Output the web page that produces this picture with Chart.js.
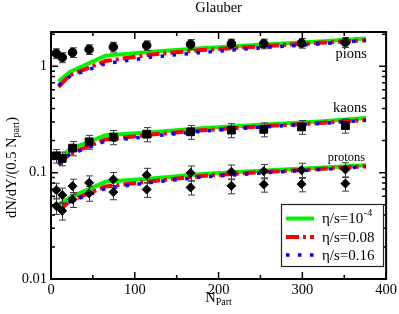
<!DOCTYPE html>
<html>
<head>
<meta charset="utf-8">
<script src="https://cdn.jsdelivr.net/npm/chart.js@4/dist/chart.umd.min.js"></script>
<style>
  body { margin: 0; background: #fff; }
  canvas { display: block; }
</style>
</head>
<body>
<canvas id="chart" width="399" height="314"></canvas>
<script>
// measured points (PHENIX-style centrality bins)
const nPart = [6.3, 13.4, 25.7, 45.5, 74.4, 114.2, 166.6, 215.3, 253.9, 299.0, 351.4];
const pions = [1.32, 1.21, 1.35, 1.44, 1.52, 1.57, 1.61, 1.63, 1.63, 1.65, 1.68];
const pionErr = [0.14, 0.13, 0.14, 0.15, 0.16, 0.16, 0.17, 0.17, 0.17, 0.17, 0.18];
const kaons = [0.144, 0.136, 0.170, 0.195, 0.216, 0.230, 0.242, 0.251, 0.255, 0.269, 0.277];
const kaonErr = [0.021, 0.020, 0.026, 0.029, 0.033, 0.035, 0.036, 0.038, 0.038, 0.040, 0.042];
const protons = [0.0685, 0.0615, 0.0747, 0.0802, 0.0863, 0.0948, 0.0995, 0.1018, 0.1033, 0.1055, 0.107];
const protonErr = [0.011, 0.010, 0.012, 0.013, 0.014, 0.015, 0.016, 0.016, 0.016, 0.017, 0.017];
const antiprotons = [0.0485, 0.0438, 0.0560, 0.0638, 0.0656, 0.0695, 0.0726, 0.0752, 0.0775, 0.078, 0.079];
const antiprotonErr = [0.008, 0.008, 0.009, 0.010, 0.010, 0.011, 0.011, 0.012, 0.012, 0.012, 0.012];

// hydro curves
const modelNpart = [9, 22, 65, 120, 180, 250, 320, 376];
const pionIdeal = [0.72, 0.88, 1.26, 1.37, 1.48, 1.59, 1.71, 1.82];
const pion008 = [0.64, 0.82, 1.12, 1.29, 1.42, 1.54, 1.66, 1.76];
const pion016 = [0.66, 0.80, 1.06, 1.22, 1.35, 1.49, 1.62, 1.75];
const kaonIdeal = [0.130, 0.165, 0.225, 0.240, 0.262, 0.282, 0.303, 0.327];
const kaon008 = [0.118, 0.150, 0.205, 0.228, 0.250, 0.272, 0.293, 0.312];
const kaon016 = [0.120, 0.148, 0.198, 0.220, 0.245, 0.268, 0.290, 0.310];
const protonIdeal = [0.050, 0.058, 0.082, 0.088, 0.097, 0.104, 0.111, 0.1175];
const proton008 = [0.043, 0.054, 0.074, 0.083, 0.093, 0.101, 0.108, 0.115];
const proton016 = [0.045, 0.053, 0.071, 0.081, 0.091, 0.099, 0.107, 0.114];

const xMajor = [0, 100, 200, 300, 400];
const xMinor = [50, 150, 250, 350];
const yMajor = [0.01, 0.1, 1];
const yMinor = [0.02, 0.03, 0.04, 0.05, 0.06, 0.07, 0.08, 0.09,
  0.2, 0.3, 0.4, 0.5, 0.6, 0.7, 0.8, 0.9, 2];

const legendLabels = [['η/s=10', '-4'], ['η/s=0.08', ''], ['η/s=0.16', '']];

const SERIF = '"Liberation Serif", "Times New Roman", serif';
const pts = (xs, ys) => xs.map((x, i) => ({ x, y: ys[i] }));

const styles = {
  ideal: { borderColor: '#00f400', borderWidth: 4, borderDash: [] },
  v008: { borderColor: '#ff0000', borderWidth: 4, borderDash: [13, 4, 3, 4] },
  v016: { borderColor: '#0000ff', borderWidth: 3.5, borderDash: [3.5, 8.5] },
};

const curve = (ys, kind, order) => ({
  type: 'line',
  data: pts(modelNpart, ys),
  ...styles[kind],
  borderCapStyle: 'butt',
  pointRadius: 0,
  fill: false,
  tension: 0,
  order,
});

const marks = (ys, errs, style, radius) => ({
  type: 'scatter',
  data: pts(nPart, ys),
  errors: errs,
  pointStyle: style,
  pointRadius: radius,
  backgroundColor: '#000',
  borderColor: '#000',
  borderWidth: 1,
  order: 0,
});

const datasets = [
  marks(pions, pionErr, 'circle', 4.3),
  marks(kaons, kaonErr, 'rect', 5.5),
  marks(protons, protonErr, 'rectRot', 4.5),
  marks(antiprotons, antiprotonErr, 'rectRot', 4.5),
  curve(pion016, 'v016', 1), curve(kaon016, 'v016', 1), curve(proton016, 'v016', 1),
  curve(pion008, 'v008', 2), curve(kaon008, 'v008', 2), curve(proton008, 'v008', 2),
  curve(pionIdeal, 'ideal', 3), curve(kaonIdeal, 'ideal', 3), curve(protonIdeal, 'ideal', 3),
];

// error bars go under each marker set
const errorBars = {
  id: 'errorBars',
  beforeDatasetDraw: (chart, args) => {
    const ds = chart.data.datasets[args.index];
    if (!ds.errors) return;
    const { ctx, scales: { x, y } } = chart;
    ctx.save();
    ctx.strokeStyle = '#3a3a3a';
    ctx.lineWidth = 1;
    ds.data.forEach((p, i) => {
      const px = Math.round(x.getPixelForValue(p.x)) + 0.5;
      const top = y.getPixelForValue(p.y + ds.errors[i]);
      const bot = y.getPixelForValue(p.y - ds.errors[i]);
      ctx.beginPath();
      ctx.moveTo(px, top); ctx.lineTo(px, bot);
      ctx.moveTo(px - 3.5, top); ctx.lineTo(px + 3.5, top);
      ctx.moveTo(px - 3.5, bot); ctx.lineTo(px + 3.5, bot);
      ctx.stroke();
    });
    ctx.restore();
  },
};

// frame with inward ticks on all four sides
const frame = {
  id: 'frame',
  afterDatasetsDraw: chart => {
    const { ctx, chartArea: a, scales: { x, y } } = chart;
    ctx.save();
    ctx.strokeStyle = '#000';
    ctx.lineWidth = 1.5;
    ctx.beginPath();
    const xt = (v, len) => {
      const px = x.getPixelForValue(v);
      ctx.moveTo(px, a.bottom); ctx.lineTo(px, a.bottom - len);
      ctx.moveTo(px, a.top); ctx.lineTo(px, a.top + len);
    };
    const yt = (v, len) => {
      const py = y.getPixelForValue(v);
      ctx.moveTo(a.left, py); ctx.lineTo(a.left + len, py);
      ctx.moveTo(a.right, py); ctx.lineTo(a.right - len, py);
    };
    xMajor.forEach(v => xt(v, 7));
    xMinor.forEach(v => xt(v, 4));
    yMajor.forEach(v => yt(v, 7));
    yMinor.forEach(v => yt(v, 4));
    ctx.stroke();
    ctx.lineWidth = 2;
    ctx.strokeRect(a.left, a.top, a.right - a.left, a.bottom - a.top);
    ctx.restore();
  },
};

const texts = {
  id: 'texts',
  afterDraw: chart => {
    const { ctx, chartArea: a, scales: { x, y } } = chart;
    const cx = (a.left + a.right) / 2;
    ctx.save();
    ctx.fillStyle = '#000';

    ctx.font = `14.5px ${SERIF}`;
    ctx.textAlign = 'center';
    ctx.textBaseline = 'middle';
    ctx.fillText('Glauber', cx, 8);

    // species labels
    ctx.textAlign = 'right';
    ctx.fillText('pions', x.getPixelForValue(377), y.getPixelForValue(1.29));
    ctx.fillText('kaons', x.getPixelForValue(377), y.getPixelForValue(0.406));
    ctx.font = `12.5px ${SERIF}`;
    ctx.fillText('protons', x.getPixelForValue(375), y.getPixelForValue(0.139));

    // x title: N_Part
    ctx.textBaseline = 'alphabetic';
    ctx.textAlign = 'left';
    ctx.font = `14.5px ${SERIF}`;
    const wN = ctx.measureText('N').width;
    ctx.font = `10px ${SERIF}`;
    const wSub = ctx.measureText('Part').width;
    let sx = cx - (wN + wSub) / 2;
    ctx.font = `14.5px ${SERIF}`;
    ctx.fillText('N', sx, 301.5);
    ctx.font = `10px ${SERIF}`;
    ctx.fillText('Part', sx + wN, 305);

    // y title, rotated
    ctx.save();
    ctx.translate(16, 167.5);
    ctx.rotate(-Math.PI / 2);
    ctx.font = `14.5px ${SERIF}`;
    const m1 = 'dN/dY/(0.5 N';
    const w1 = ctx.measureText(m1).width;
    const w3 = ctx.measureText(')').width;
    ctx.font = `10px ${SERIF}`;
    const w2 = ctx.measureText('part').width;
    let tx = -(w1 + w2 + w3) / 2;
    ctx.font = `14.5px ${SERIF}`;
    ctx.fillText(m1, tx, 0);
    ctx.font = `10px ${SERIF}`;
    ctx.fillText('part', tx + w1, 3);
    ctx.font = `14.5px ${SERIF}`;
    ctx.fillText(')', tx + w1 + w2, 0);
    ctx.restore();

    // legend box
    const bx = 281, by = 204, bw = 102, bh = 62;
    ctx.fillStyle = '#fff';
    ctx.fillRect(bx, by, bw, bh);
    ctx.strokeStyle = '#222';
    ctx.lineWidth = 1.2;
    ctx.strokeRect(bx + 0.5, by + 0.5, bw, bh);
    const rows = [218.5, 237, 255];
    const kinds = ['ideal', 'v008', 'v016'];
    kinds.forEach((k, i) => {
      const s = styles[k];
      ctx.save();
      ctx.strokeStyle = s.borderColor;
      ctx.lineWidth = s.borderWidth;
      ctx.setLineDash(s.borderDash);
      ctx.lineCap = 'butt';
      ctx.beginPath();
      ctx.moveTo(286, rows[i]);
      ctx.lineTo(314, rows[i]);
      ctx.stroke();
      ctx.restore();
      ctx.fillStyle = '#000';
      ctx.textBaseline = 'middle';
      ctx.textAlign = 'left';
      ctx.font = `15px ${SERIF}`;
      const [main, sup] = legendLabels[i];
      ctx.fillText(main, 322, rows[i] + 1);
      if (sup) {
        const w = ctx.measureText(main).width;
        ctx.font = `10px ${SERIF}`;
        ctx.fillText(sup, 322 + w + 0.5, rows[i] - 5);
      }
    });
    ctx.restore();
  },
};

const tickFont = { family: SERIF, size: 14.5 };

new Chart(document.getElementById('chart'), {
  type: 'scatter',
  data: { datasets },
  options: {
    responsive: false,
    animation: false,
    events: [],
    layout: { padding: { top: 32, right: 12, left: 0, bottom: 0 } },
    scales: {
      x: {
        type: 'linear',
        min: 0,
        max: 400,
        grid: { display: false, drawTicks: false },
        border: { display: false },
        afterBuildTicks: s => { s.ticks = xMajor.map(v => ({ value: v })); },
        ticks: { color: '#000', font: tickFont, padding: 2, maxRotation: 0, autoSkip: false },
        afterFit: s => { s.height = 35; },
      },
      y: {
        type: 'logarithmic',
        min: 0.01,
        max: 2.1,
        grid: { display: false, drawTicks: false },
        border: { display: false },
        afterBuildTicks: s => { s.ticks = yMajor.map(v => ({ value: v })); },
        ticks: { color: '#000', font: tickFont, padding: 4, autoSkip: false, callback: v => String(v) },
        afterFit: s => { s.width = 51; },
      },
    },
    plugins: { legend: { display: false }, tooltip: { enabled: false }, title: { display: false } },
  },
  plugins: [errorBars, frame, texts],
});
</script>
</body>
</html>
